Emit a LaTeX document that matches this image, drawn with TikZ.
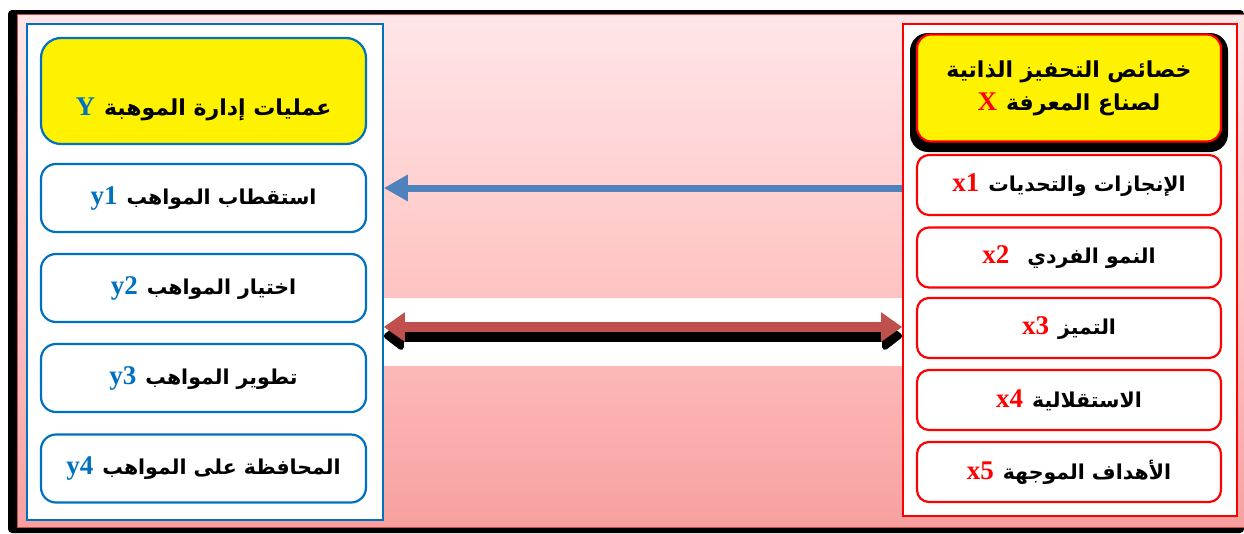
\documentclass[tikz,border=0pt]{standalone}
\usepackage{fontspec}
\usetikzlibrary{arrows.meta}
\TeXXeTstate=1
\newfontfamily\arabicfont[Script=Arabic]{DejaVu Sans}
\newfontfamily\latinserif{Liberation Serif}
\definecolor{varblue}{HTML}{0070C0}
\definecolor{varred}{HTML}{FF0000}
\definecolor{arrowblue}{HTML}{4F81BD}
\definecolor{arrowred}{HTML}{C0504D}
\definecolor{bgtop}{HTML}{FFE6E8}
\definecolor{bgmid}{HTML}{FFC6C6}
\definecolor{bgbot}{HTML}{F8A0A0}
\definecolor{frameRed}{HTML}{C0504D}
% Arabic type at a given size
\newcommand\arsize[1]{\arabicfont\bfseries\fontsize{#1}{#1}\selectfont}
% coloured Latin variable name
\newcommand\varname[2]{{\latinserif\bfseries\fontsize{27}{27}\selectfont\color{#1}#2}}
% Latin name on the left, Arabic label (already wrapped in \beginR..\endR) on the right
\newcommand\arlabel[5][9pt]{\varname{#4}{#3}\hspace{#1}{\arsize{#5}#2}}
\tikzset{
  panelL/.style={draw=varblue, line width=1.6pt, fill=white, inner sep=0pt},
  panelR/.style={draw=varred, line width=1.6pt, fill=white, inner sep=0pt},
  ybox/.style={draw=varblue, line width=2.2pt, fill=white, rounded corners=15pt,
    minimum width=325pt, minimum height=68pt, inner sep=0pt, text=black},
  yhead/.style={ybox, fill=yellow, rounded corners=20pt, minimum height=106pt},
  xbox/.style={draw=varred, line width=2.2pt, fill=white, rounded corners=12pt,
    minimum width=304pt, minimum height=60pt, inner sep=0pt, text=black},
  xhead/.style={xbox, fill=yellow, rounded corners=14pt, minimum height=107pt, align=center},
}
\begin{document}
\begin{tikzpicture}[x=1pt, y=-1pt]
\useasboundingbox (0,0) rectangle (1244,533);
% outer frame with its dark shadow
\fill[black, rounded corners=4pt] (8,10) rectangle (1244,533);
\shade[top color=bgtop, bottom color=bgbot, middle color=bgmid, draw=frameRed, line width=1pt]
  (17,14) rectangle (1244,527);
% light band behind the two-way arrow
\fill[white] (383,298) rectangle (905,366);

% side panels
\node[panelL, minimum width=356pt, minimum height=496pt] (L) at (205,272) {};
\node[panelR, minimum width=334pt, minimum height=492pt] (R) at (1070,270) {};

% dependent variable Y (title sits low in its box)
\node[yhead] (Y) at (203.5,91) {\raisebox{-24pt}[0pt][0pt]{\arlabel{\beginR عمليات إدارة الموهبة\endR}{Y}{varblue}{22}}};
\node[ybox] (y1) at (203.5,198) {\arlabel{\beginR استقطاب المواهب\endR}{y1}{varblue}{20.5}};
\node[ybox] (y2) at (203.5,288) {\arlabel{\beginR اختيار المواهب\endR}{y2}{varblue}{20.5}};
\node[ybox] (y3) at (203.5,378) {\arlabel{\beginR تطوير المواهب\endR}{y3}{varblue}{20.5}};
\node[ybox] (y4) at (203.5,468.5) {\arlabel{\beginR المحافظة على المواهب\endR}{y4}{varblue}{20.5}};

% independent variable X
\fill[black, rounded corners=18pt] (910,33) rectangle (1228,152);
\node[xhead] (X) at (1069,88) {{\arsize{22}\beginR خصائص التحفيز الذاتية\endR}\\[9pt]\arlabel{\beginR لصناع المعرفة\endR}{X}{varred}{22}};
\node[xbox] (x1) at (1069,185) {\arlabel{\beginR الإنجازات والتحديات\endR}{x1}{varred}{20.5}};
\node[xbox] (x2) at (1069,257.5) {\arlabel[18pt]{\beginR النمو الفردي\endR}{x2}{varred}{20.5}};
\node[xbox] (x3) at (1069,328) {\arlabel{\beginR التميز\endR}{x3}{varred}{20.5}};
\node[xbox] (x4) at (1069,400) {\arlabel{\beginR الاستقلالية\endR}{x4}{varred}{20.5}};
\node[xbox] (x5) at (1069,472) {\arlabel{\beginR الأهداف الموجهة\endR}{x5}{varred}{20.5}};

% one-way arrow from X to Y
\coordinate (aS) at (R.west |- 0,188);
\coordinate (aE) at (L.east |- 0,188);
\draw[arrowblue, line width=7pt, -{Triangle[length=24pt,width=25pt]}] (aS) -- (aE);

% two-way arrow with its shadow
\coordinate (bL) at (L.east |- 0,327);
\coordinate (bR) at (R.west |- 0,327);
\draw[black, line width=12pt, {Triangle[length=22pt,width=32pt,round]}-{Triangle[length=22pt,width=32pt,round]}]
  ([yshift=-9pt]bL) -- ([yshift=-9pt]bR);
\draw[arrowred, line width=10pt, {Triangle[length=21pt,width=28pt]}-{Triangle[length=21pt,width=28pt]}]
  (bL) -- (bR);
\end{tikzpicture}
\end{document}
